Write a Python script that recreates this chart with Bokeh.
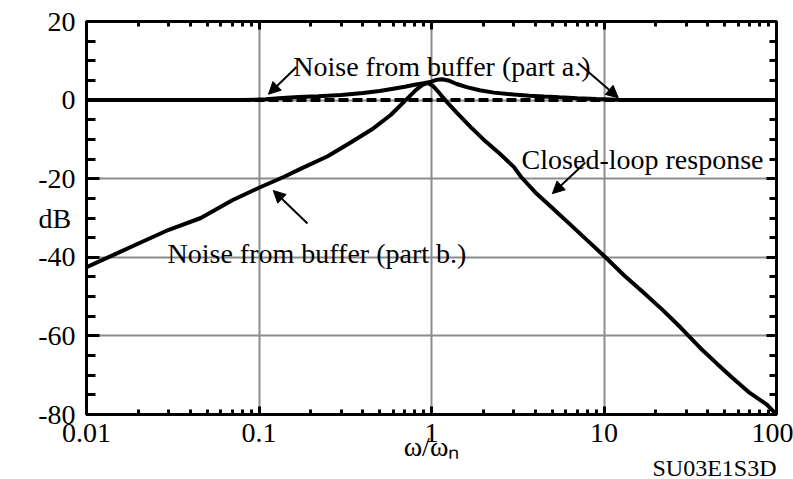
from bokeh.plotting import figure
from bokeh.models import (FixedTicker, LinearAxis, LogAxis, Label, Arrow, NormalHead, Title)
from bokeh.embed import file_html
from bokeh.resources import INLINE

# ---------------- data ----------------
# Noise from buffer (part a.)
w_a = [0.01, 0.08, 0.11, 0.13, 0.17, 0.22, 0.3, 0.4, 0.5, 0.6, 0.7, 0.8, 0.9, 1.0, 1.08,
       1.15, 1.25, 1.4, 1.6, 1.9, 2.3, 3.0, 3.7, 4.5, 5.5, 7.0, 9.0, 12.0, 15.0, 100.0]
db_a = [0.0, 0.0, 0.2, 0.5, 0.8, 1.0, 1.3, 1.8, 2.3, 2.9, 3.4, 3.9, 4.3, 4.7, 5.2,
        5.3, 5.0, 4.1, 3.3, 2.5, 1.9, 1.4, 1.1, 0.9, 0.7, 0.5, 0.3, 0.1, 0.0, 0.0]

# Noise from buffer (part b.) / closed-loop response (rising, peak, falling)
w_b = [0.01, 0.015, 0.02, 0.03, 0.046, 0.07, 0.1, 0.14, 0.174, 0.25, 0.34, 0.45, 0.58,
       0.69, 0.8, 0.88, 0.95, 1.02, 1.1, 1.2, 1.4, 1.7, 2.0, 2.5, 3.0, 3.3, 4.0, 5.0,
       6.5, 8.0, 10.2, 13.0, 17.0, 22.0, 28.0, 36.0, 45.0, 55.0, 70.0, 88.0, 100.0]
db_b = [-42.5, -39.0, -36.5, -33.0, -30.0, -25.5, -22.3, -19.5, -17.5, -14.3, -10.8, -7.5, -3.8,
        -0.5, 2.3, 3.8, 4.4, 3.6, 2.0, 0.0, -3.2, -7.0, -10.0, -13.7, -17.0, -19.5, -23.5, -27.4,
        -32.0, -35.7, -40.0, -44.5, -49.0, -53.5, -58.0, -63.0, -67.0, -70.5, -74.5, -77.5, -80.0]

# dashed 0 dB reference
w_ref = [0.01, 100.0]
db_ref = [0.0, 0.0]

# ticks
x_ticks = [0.01, 0.1, 1, 10, 100]
x_tick_labels = ["0.01", "0.1", "1", "10", "100"]
x_minor = [m * d for d in [0.01, 0.1, 1, 10] for m in range(2, 10)]
y_ticks = [-80, -60, -40, -20, 0, 20]
y_tick_labels = ["-80", "-60", "-40", "-20", "0", "20"]
y_minor = list(range(-80, 21, 5))

# annotation texts and positions (data units)
txt_a = "Noise from buffer (part a.)"
txt_a_pos = (0.158, 8.6)
arrow_a1 = (0.165, 8.4, 0.1135, 1.5)
arrow_a2 = (7.1, 9.4, 12.1, 0.6)
txt_b = "Noise from buffer (part b.)"
txt_b_pos = (0.0295, -39.0)
arrow_b = (0.191, -31.4, 0.121, -23.0)
txt_c = "Closed-loop response"
txt_c_pos = (3.33, -15.2)
arrow_c = (7.8, -15.9, 5.02, -23.8)

x_title = "ω/ωₙ"
y_title = "dB"
fig_id = "SU03E1S3D"

FONT = "Liberation Serif"

p = figure(width=793, height=479, x_axis_type="log", x_range=(0.01, 100), y_range=(-80, 20),
           output_backend="svg", toolbar_location=None,
           min_border_left=86, min_border_right=17, min_border_top=21, min_border_bottom=65)
p.background_fill_color = "white"
p.border_fill_color = "white"
p.outline_line_color = "black"
p.outline_line_width = 3

xt = FixedTicker(ticks=x_ticks, minor_ticks=x_minor)
yt = FixedTicker(ticks=y_ticks, minor_ticks=y_minor)


def style_axis(ax, minor_len, major_len):
    ax.axis_line_width = 3
    ax.axis_line_color = "black"
    ax.major_tick_in = major_len
    ax.major_tick_out = 0
    ax.minor_tick_in = minor_len
    ax.minor_tick_out = 0
    ax.major_tick_line_width = 3
    ax.minor_tick_line_width = 3
    ax.major_tick_line_color = "black"
    ax.minor_tick_line_color = "black"
    ax.major_label_text_font = FONT
    ax.major_label_text_font_size = "28px"
    ax.major_label_text_color = "black"
    ax.axis_label_text_font = FONT
    ax.axis_label_text_font_style = "normal"
    ax.axis_label_text_font_size = "28px"
    ax.axis_label_text_color = "black"


xa = p.xaxis[0]
xa.ticker = xt
xa.major_label_overrides = {t: l for t, l in zip(x_ticks, x_tick_labels)}
style_axis(xa, 5, 8)
xa.major_label_standoff = 9
xa.axis_label = x_title
xa.axis_label_standoff = -14

ya = p.yaxis[0]
ya.ticker = yt
ya.major_label_overrides = {t: l for t, l in zip(y_ticks, y_tick_labels)}
style_axis(ya, 9, 13)
ya.major_label_standoff = 11
ya.axis_label = y_title
ya.axis_label_orientation = "horizontal"
ya.axis_label_standoff = -36

top = LogAxis(ticker=FixedTicker(ticks=x_ticks, minor_ticks=x_minor))
style_axis(top, 5, 8)
top.major_label_overrides = {t: "" for t in x_ticks}
top.major_label_standoff = 0
p.add_layout(top, "above")

right = LinearAxis(ticker=FixedTicker(ticks=y_ticks, minor_ticks=y_minor))
style_axis(right, 7, 10)
right.major_label_overrides = {t: "" for t in y_ticks}
right.major_label_standoff = 0
p.add_layout(right, "right")

for g in (p.xgrid[0], p.ygrid[0]):
    g.grid_line_color = "#8c8c8c"
    g.grid_line_width = 2
p.xgrid[0].ticker = FixedTicker(ticks=x_ticks)
p.ygrid[0].ticker = FixedTicker(ticks=y_ticks)

# curves
p.line(w_ref, db_ref, line_color="black", line_width=4, line_dash="10 4")
p.line(w_a, db_a, line_color="black", line_width=4)
p.line(w_b, db_b, line_color="black", line_width=4)

# annotations
for (x0, y0, x1, y1) in (arrow_a1, arrow_a2, arrow_b, arrow_c):
    p.add_layout(Arrow(x_start=x0, y_start=y0, x_end=x1, y_end=y1, line_width=2,
                       line_color="black",
                       end=NormalHead(size=12, fill_color="black", line_color="black")))

for txt, (tx, ty) in ((txt_a, txt_a_pos), (txt_b, txt_b_pos), (txt_c, txt_c_pos)):
    p.add_layout(Label(x=tx, y=ty, text=txt, text_font=FONT, text_font_size="28px",
                       text_color="black", text_baseline="alphabetic", text_align="left"))

p.add_layout(Title(text=fig_id, align="right", text_font=FONT, text_font_size="24px",
                   text_font_style="normal", text_color="black", standoff=-24), "below")

open("out.html", "w").write(file_html(p, INLINE))
